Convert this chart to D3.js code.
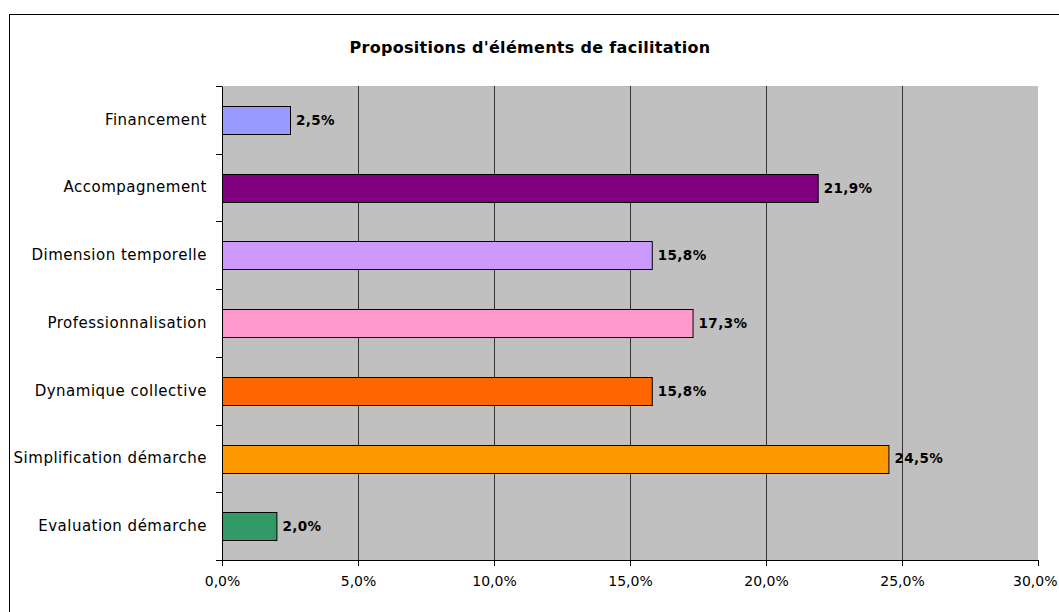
<!DOCTYPE html>
<html>
<head>
<meta charset="utf-8">
<script src="https://cdn.jsdelivr.net/npm/d3@7"></script>
<style>
body { margin: 0; background: #fff; }
svg { display: block; font-family: "DejaVu Sans", sans-serif; }
</style>
</head>
<body>
<script>
let categories = ["Financement", "Accompagnement", "Dimension temporelle", "Professionnalisation",
  "Dynamique collective", "Simplification démarche", "Evaluation démarche"];
let values = [2.5, 21.9, 15.8, 17.3, 15.8, 24.5, 2.0];
let colors = ["#9999FF", "#800080", "#CC99FF", "#FF99CC", "#FF6600", "#FF9900", "#339966"];
let xTicks = [0, 5, 10, 15, 20, 25, 30];

let width = 1059, height = 612,
    plotLeft = 222, plotRight = 1038, plotTop = 86, plotBottom = 560;

let svg = d3.select('body').append('svg')
  .attr('width', width).attr('height', height);

// cadre du graphique
svg.append('rect')
  .attr('x', 9.5).attr('y', 14.5)
  .attr('width', 1070).attr('height', 620)
  .attr('fill', '#fff').attr('stroke', '#000');

svg.append('text')
  .attr('x', 530).attr('y', 53)
  .attr('text-anchor', 'middle')
  .attr('font-size', 16).attr('font-weight', 'bold')
  .attr('letter-spacing', 0.3)
  .text("Propositions d'éléments de facilitation");

let x = d3.scaleLinear().domain([0, 30]).range([plotLeft, plotRight]);
let y = d3.scaleBand().domain(categories).range([plotTop, plotBottom]);

// zone de traçage
svg.append('rect')
  .attr('x', plotLeft).attr('y', plotTop)
  .attr('width', plotRight - plotLeft).attr('height', plotBottom - plotTop)
  .attr('fill', '#C0C0C0');

// grille
svg.append('g').selectAll('line')
  .data(xTicks.slice(1, -1))
  .enter().append('line')
  .attr('x1', d => Math.round(x(d)) + 0.5).attr('x2', d => Math.round(x(d)) + 0.5)
  .attr('y1', plotTop).attr('y2', plotBottom)
  .attr('stroke', '#333');

let barH = y.bandwidth() * 0.41;
svg.append('g').selectAll('rect')
  .data(values)
  .enter().append('rect')
  .attr('x', plotLeft + 0.5)
  .attr('y', (d, i) => Math.round(y(categories[i]) + (y.bandwidth() - barH) / 2) + 0.5)
  .attr('width', d => x(d) - plotLeft)
  .attr('height', Math.round(barH))
  .attr('fill', (d, i) => colors[i])
  .attr('stroke', '#000');

let fmt = d => d.toFixed(1).replace('.', ',') + '%';

svg.append('g').selectAll('text')
  .data(values)
  .enter().append('text')
  .attr('x', d => x(d) + 6)
  .attr('y', (d, i) => y(categories[i]) + y.bandwidth() / 2 + 5)
  .attr('font-size', 13.5).attr('font-weight', 'bold')
  .attr('letter-spacing', 0.4)
  .text(fmt);

// axes
let axisX = d3.axisBottom(x).tickValues(xTicks).tickFormat(fmt).tickSizeOuter(0).tickSize(6).tickPadding(10);
let gx = svg.append('g').attr('transform', `translate(0,${plotBottom})`).call(axisX);
gx.selectAll('text').attr('font-size', 14).attr('font-family', '"DejaVu Sans", sans-serif').attr('fill', '#000');
gx.selectAll('line, path').attr('stroke', '#000');
// le dernier libellé reste dans la fenêtre
gx.selectAll('.tick').filter(d => d === 30).select('text')
  .attr('text-anchor', 'end').attr('x', width - 2 - plotRight);

let axisY = d3.axisLeft(y).tickSize(0).tickPadding(15).tickSizeOuter(0);
let gy = svg.append('g').attr('transform', `translate(${plotLeft},0)`).call(axisY);
gy.selectAll('text').attr('font-size', 15).attr('letter-spacing', 0.5)
  .attr('font-family', '"DejaVu Sans", sans-serif').attr('fill', '#000');
gy.selectAll('path').attr('stroke', '#000');
// graduations entre catégories
gy.selectAll('line.sep')
  .data(d3.range(categories.length + 1))
  .enter().append('line')
  .attr('class', 'sep')
  .attr('x1', -6).attr('x2', 0)
  .attr('y1', i => Math.round(plotTop + i * y.step()) + 0.5)
  .attr('y2', i => Math.round(plotTop + i * y.step()) + 0.5)
  .attr('stroke', '#000');
</script>
</body>
</html>
